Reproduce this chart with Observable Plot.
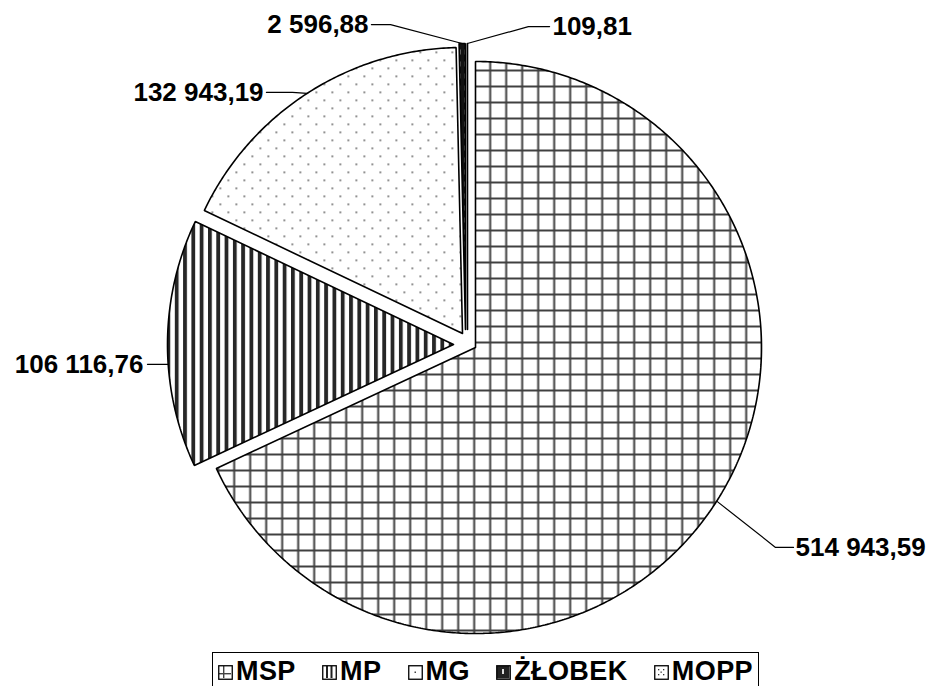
<!DOCTYPE html>
<html>
<head>
<meta charset="utf-8">
<script src="https://cdn.jsdelivr.net/npm/d3@7"></script>
<script src="https://cdn.jsdelivr.net/npm/@observablehq/plot@0.6"></script>
<style>
  html, body { margin: 0; padding: 0; background: #fff; }
  #chart { position: relative; width: 933px; height: 686px; overflow: hidden; font-family: "Liberation Sans", Arial, sans-serif; }
  #chart svg.plot { position: absolute; left: 0; top: 0; }
  .legend { position: absolute; left: 212px; top: 652px; width: 535px; height: 44px; border: 1.5px solid #000;
            display: flex; justify-content: space-between; align-items: flex-start; padding: 5px 5px 0 5px;
            font-weight: bold; font-size: 27px; line-height: 27px; letter-spacing: 0.4px; color: #000; }
  .legend .item { display: flex; align-items: center; gap: 3px; white-space: nowrap; }
  .legend svg { display: block; }
</style>
</head>
<body>
<div id="chart"></div>
<script>
// ---- data ----
const categories = ["MSP", "MP", "MG", "ŻŁOBEK", "MOPP"];
const values = [514943.59, 106116.76, 132943.19, 2596.88, 109.81];

// ---- layout (pie radius units, origin at the pie centre, y downward) ----
const W = 933, H = 650;
const CX = 475, CY = 347, R = 286;
const explode = [[0, 0], [-22, -3], [-13, -14], [-10, -18], [-8, -18]].map(([a, b]) => [a / R, b / R]);
const labelAnchor = ["start", "end", "end", "end", "start"];
const labelPos = [[1.119, 0.699], [-1.161, 0.059], [-0.741, -0.892], [-0.374, -1.129], [0.269, -1.122]];
const leaderStart = [[1.112, 0.699], [-1.147, 0.059], [-0.731, -0.892], [-0.364, -1.129], [0.259, -1.122]];
const leaderElbow = [[1.049, 0.699], null, [-0.640, -0.892], [-0.297, -1.129], [0.185, -1.122]];
const patternIds = ["pat-msp", "pat-mp", "pat-mg", "pat-zlobek", "pat-mopp"];

const fmt = d3.formatLocale({decimal: ",", thousands: " ", grouping: [3], currency: ["", ""]}).format(",.2f");

const data = categories.map((c, i) => ({key: c, value: values[i]}));
const arcs = d3.pie().sort(null).value(d => d.value)(data);

// slice polygons
const slicePts = arcs.flatMap((p, i) => {
  const key = categories[i];
  const [ox, oy] = explode[i];
  const n = Math.max(2, Math.ceil((p.endAngle - p.startAngle) / (Math.PI / 360)));
  const pts = [{key, x: ox, y: oy}];
  for (let k = 0; k <= n; k++) {
    const a = p.startAngle + (p.endAngle - p.startAngle) * k / n;
    pts.push({key, x: ox + Math.sin(a), y: oy - Math.cos(a)});
  }
  pts.push({key, x: ox, y: oy});
  return pts;
});

// leader lines
const leaderPts = arcs.flatMap((p, i) => {
  const key = categories[i];
  const [ox, oy] = explode[i];
  let ax, ay;
  if (leaderElbow[i] === null) {
    ay = leaderStart[i][1];
    const dy = ay - oy;
    ax = ox - Math.sqrt(Math.max(0, 1 - dy * dy));
  } else {
    const a = (p.startAngle + p.endAngle) / 2;
    ax = ox + Math.sin(a); ay = oy - Math.cos(a);
  }
  const pts = [{key, x: leaderStart[i][0], y: leaderStart[i][1]}];
  if (leaderElbow[i]) pts.push({key, x: leaderElbow[i][0], y: leaderElbow[i][1]});
  pts.push({key, x: ax, y: ay});
  return pts;
});

const labels = categories.map((c, i) => ({key: c, x: labelPos[i][0], y: labelPos[i][1], text: fmt(values[i]), anchor: labelAnchor[i]}));

const plot = Plot.plot({
  width: W, height: H, margin: 0,
  style: {background: "transparent", overflow: "visible"},
  x: {type: "linear", domain: [-CX / R, (W - CX) / R], range: [0, W], axis: null},
  y: {type: "linear", domain: [-CY / R, (H - CY) / R], range: [0, H], axis: null},
  color: {type: "ordinal", domain: categories, range: patternIds.map(id => `url(#${id})`)},
  marks: [
    Plot.line(slicePts, {x: "x", y: "y", z: "key", fill: "key", stroke: "#000", strokeWidth: 1.6, strokeLinejoin: "miter", curve: "linear"}),
    Plot.line(leaderPts, {x: "x", y: "y", z: "key", stroke: "#000", strokeWidth: 1.2, curve: "linear"}),
    Plot.text(labels.filter(d => d.anchor === "start"), {x: "x", y: "y", text: "text", textAnchor: "start", fontSize: 26, fontWeight: "bold", fontFamily: "Liberation Sans, Arial, sans-serif", fill: "#000"}),
    Plot.text(labels.filter(d => d.anchor === "end"), {x: "x", y: "y", text: "text", textAnchor: "end", fontSize: 26, fontWeight: "bold", fontFamily: "Liberation Sans, Arial, sans-serif", fill: "#000"})
  ]
});

// patterns
const defs = d3.select(plot).insert("defs", ":first-child");
{
  const p = defs.append("pattern").attr("id", "pat-msp").attr("patternUnits", "userSpaceOnUse").attr("width", 16).attr("height", 16);
  p.append("rect").attr("width", 16).attr("height", 16).attr("fill", "#fff");
  p.append("rect").attr("x", 8.7).attr("y", 0).attr("width", 2).attr("height", 16).attr("fill", "#404040");
  p.append("rect").attr("x", 0).attr("y", 5).attr("width", 16).attr("height", 2).attr("fill", "#404040");
}
{
  const p = defs.append("pattern").attr("id", "pat-mp").attr("patternUnits", "userSpaceOnUse").attr("width", 8.3).attr("height", 10);
  p.append("rect").attr("width", 8.3).attr("height", 10).attr("fill", "#fff");
  p.append("rect").attr("x", 0).attr("width", 3.8).attr("height", 10).attr("fill", "#262626");
}
{
  const p = defs.append("pattern").attr("id", "pat-mg").attr("patternUnits", "userSpaceOnUse").attr("width", 16).attr("height", 16);
  p.append("rect").attr("width", 16).attr("height", 16).attr("fill", "#fff");
  p.append("rect").attr("x", 3).attr("y", 3).attr("width", 1.6).attr("height", 1.6).attr("fill", "#555");
  p.append("rect").attr("x", 11).attr("y", 11).attr("width", 1.6).attr("height", 1.6).attr("fill", "#555");
}
{
  const p = defs.append("pattern").attr("id", "pat-zlobek").attr("patternUnits", "userSpaceOnUse").attr("width", 6).attr("height", 12);
  p.append("rect").attr("width", 6).attr("height", 12).attr("fill", "#111");
  p.append("rect").attr("x", 2.3).attr("y", 1).attr("width", 1.5).attr("height", 5).attr("fill", "#ddd");
}
{
  const p = defs.append("pattern").attr("id", "pat-mopp").attr("patternUnits", "userSpaceOnUse").attr("width", 4).attr("height", 4);
  p.append("rect").attr("width", 4).attr("height", 4).attr("fill", "#fff");
  p.append("rect").attr("x", 1).attr("y", 1).attr("width", 1.2).attr("height", 1.2).attr("fill", "#000");
}

const chart = document.getElementById("chart");
chart.appendChild(plot);

// legend
const legend = d3.select(chart).append("div").attr("class", "legend");
const swatchDraw = [
  s => { s.append("rect").attr("x", 5).attr("y", 1).attr("width", 1.4).attr("height", 12).attr("fill", "#444");
         s.append("rect").attr("x", 1).attr("y", 8).attr("width", 12).attr("height", 1.4).attr("fill", "#444"); },
  s => { s.append("rect").attr("x", 4).attr("y", 1).attr("width", 2).attr("height", 12).attr("fill", "#222");
         s.append("rect").attr("x", 8.5).attr("y", 1).attr("width", 2).attr("height", 12).attr("fill", "#222"); },
  s => { s.append("rect").attr("x", 6.5).attr("y", 6.5).attr("width", 1.5).attr("height", 1.5).attr("fill", "#444"); },
  s => { s.append("rect").attr("x", 1).attr("y", 1).attr("width", 12.5).attr("height", 12.5).attr("fill", "#222");
         s.append("rect").attr("x", 6).attr("y", 4).attr("width", 2).attr("height", 5).attr("fill", "#ddd"); },
  s => { [[4, 4], [9, 4], [4, 9], [9, 9], [6.5, 6.5]].forEach(([x, y]) => s.append("rect").attr("x", x).attr("y", y).attr("width", 1.3).attr("height", 1.3).attr("fill", "#333")); }
];
categories.forEach((c, i) => {
  const item = legend.append("div").attr("class", "item");
  const s = item.append("svg").attr("width", 15).attr("height", 15).style("margin-top", "2px");
  swatchDraw[i](s);
  s.append("rect").attr("x", 0.75).attr("y", 0.75).attr("width", 13.5).attr("height", 13.5).attr("fill", "none").attr("stroke", "#000").attr("stroke-width", 1.3);
  item.append("span").text(c);
});
</script>
</body>
</html>
